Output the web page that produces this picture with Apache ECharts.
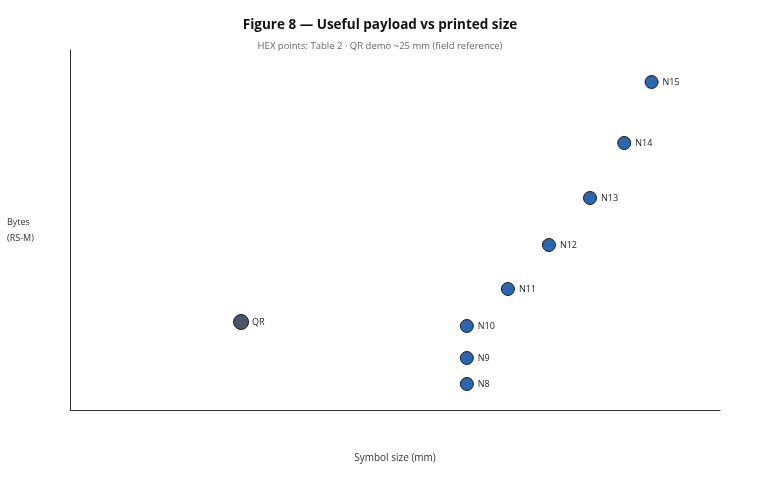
<!DOCTYPE html>
<html><head><meta charset="utf-8">
<script src="https://cdn.jsdelivr.net/npm/echarts@6/dist/echarts.min.js"></script>
<style>html,body{margin:0;padding:0;background:#fff}#c{width:760px;height:480px}</style>
</head><body><div id="c"></div>
<script>
const hexLabels = ["N8","N9","N10","N11","N12","N13","N14","N15"];
const hexSizeMm = [58,58,58,64,70,76,81,85];
const hexBytes = [130,260,420,605,825,1060,1335,1640];
const qrLabel = ["QR"];
const qrSizeMm = [25];
const qrBytes = [440];

const font = "'Open Sans', 'Noto Sans', sans-serif";
const chart = echarts.init(document.getElementById('c'));
chart.setOption({
  animation: false,
  title: {
    text: 'Figure 8 — Useful payload vs printed size',
    subtext: 'HEX points: Table 2 · QR demo ~25 mm (field reference)',
    left: 'center', top: 13, itemGap: 9,
    textStyle: {fontFamily: font, fontSize: 13.5, fontWeight: 'bold', color: '#111'},
    subtextStyle: {fontFamily: font, fontSize: 9.5, color: '#666'}
  },
  grid: {left: 70, right: 40, top: 50, bottom: 70},
  xAxis: {
    type: 'value', min: 0, max: 95,
    name: 'Symbol size (mm)', nameLocation: 'middle', nameGap: 43,
    nameTextStyle: {fontFamily: font, fontSize: 10, color: '#333'},
    axisLine: {show: true, lineStyle: {color: '#333', width: 1}},
    axisTick: {show: false}, axisLabel: {show: false}, splitLine: {show: false}
  },
  yAxis: {
    type: 'value', min: 0, max: 1800,
    name: 'Bytes\n(RS-M)', nameLocation: 'middle', nameGap: 63, nameRotate: 0,
    nameTextStyle: {fontFamily: font, fontSize: 9, color: '#333', align: 'left', lineHeight: 16},
    axisLine: {show: true, lineStyle: {color: '#333', width: 1}},
    axisTick: {show: false}, axisLabel: {show: false}, splitLine: {show: false}
  },
  series: [
    {
      type: 'scatter', symbol: 'circle', symbolSize: 13,
      data: hexSizeMm.map((x, i) => ({value: [x, hexBytes[i]], name: hexLabels[i]})),
      itemStyle: {color: '#2b66b0', borderColor: '#1a1a1a', borderWidth: 1, opacity: 1},
      label: {show: true, position: 'right', distance: 4, formatter: p => p.name,
        fontFamily: font, fontSize: 9, color: '#222'}
    },
    {
      type: 'scatter', symbol: 'circle', symbolSize: 15,
      data: qrSizeMm.map((x, i) => ({value: [x, qrBytes[i]], name: qrLabel[i]})),
      itemStyle: {color: '#4a5568', borderColor: '#1a1a1a', borderWidth: 1, opacity: 1},
      label: {show: true, position: 'right', distance: 3, formatter: p => p.name,
        fontFamily: font, fontSize: 9, color: '#222'}
    }
  ]
});
</script></body></html>
